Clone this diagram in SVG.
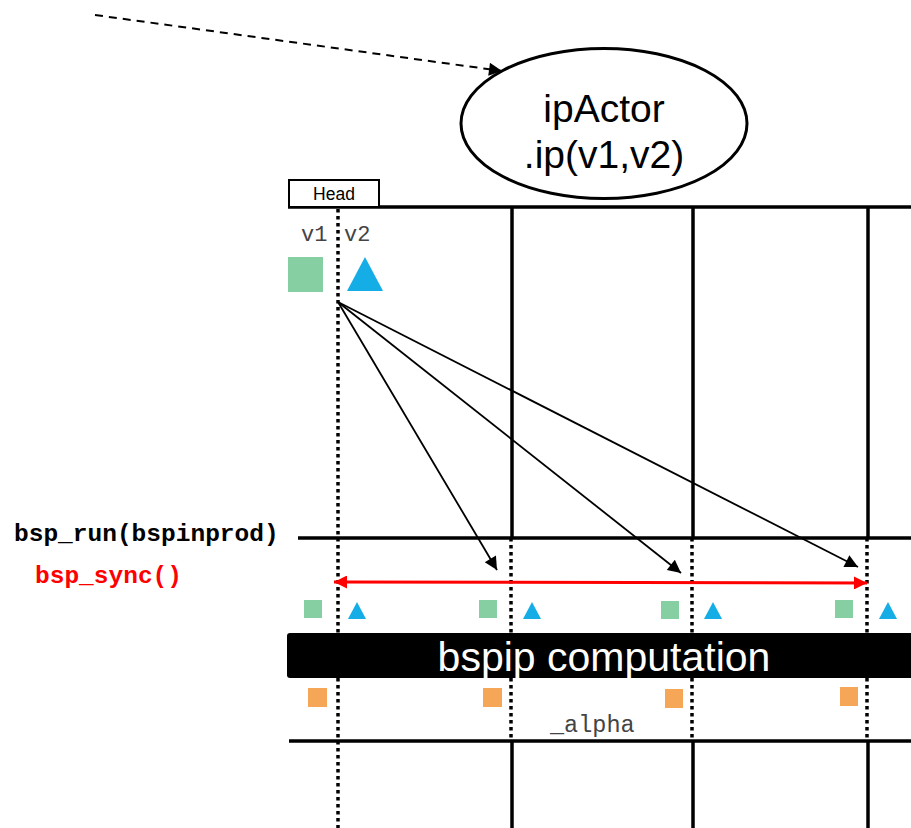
<svg xmlns="http://www.w3.org/2000/svg" width="911" height="828" viewBox="0 0 911 828">
<style>
.thick{stroke:#000;stroke-width:3.5;fill:none}
.dot{stroke:#000;stroke-width:3.5;stroke-dasharray:3.5 3.5;fill:none}
.mono{font-family:"Liberation Mono","Courier New",monospace}
.sans{font-family:"Liberation Sans",Arial,sans-serif}
.green{fill:#86CFA2}
.blue{fill:#14ADE6}
.orange{fill:#F5A657}
</style>
<defs>
<marker id="ahb" viewBox="0 0 10 10" refX="10" refY="5" markerWidth="17" markerHeight="13" markerUnits="userSpaceOnUse" orient="auto"><path d="M0,0 L10,5 L0,10 z" fill="#000"/></marker>
<marker id="ahr" viewBox="0 0 10 10" refX="10" refY="5" markerWidth="17" markerHeight="13" markerUnits="userSpaceOnUse" orient="auto-start-reverse"><path d="M0,0 L10,5 L0,10 z" fill="#FF0000"/></marker>
</defs>
<rect width="911" height="828" fill="#fff"/>

<g id="timeline">
<line class="thick" x1="288" y1="207" x2="911" y2="207"/>
<line class="thick" x1="298" y1="538" x2="911" y2="538"/>
<line class="thick" x1="289" y1="741" x2="911" y2="741"/>
<line class="dot" x1="338" y1="209" x2="338" y2="828"/>
<line class="thick" x1="512" y1="207" x2="512" y2="538"/>
<line class="dot" x1="511" y1="538" x2="511" y2="741"/>
<line class="thick" x1="512" y1="741" x2="512" y2="828"/>
<line class="thick" x1="693" y1="207" x2="693" y2="538"/>
<line class="dot" x1="692" y1="538" x2="692" y2="741"/>
<line class="thick" x1="693" y1="741" x2="693" y2="828"/>
<line class="thick" x1="868" y1="207" x2="868" y2="538"/>
<line class="dot" x1="867" y1="538" x2="867" y2="741"/>
<line class="thick" x1="868" y1="741" x2="868" y2="828"/>
</g>

<g id="ipActor">
<ellipse cx="604" cy="123.5" rx="143" ry="75" fill="#fff" stroke="#000" stroke-width="3"/>
<text class="sans" x="604" y="122" font-size="39" text-anchor="middle">ipActor</text>
<text class="sans" x="604" y="168" font-size="39" text-anchor="middle">.ip(v1,v2)</text>
</g>

<g id="head">
<rect x="289" y="180" width="90" height="27" fill="#fff" stroke="#000" stroke-width="2"/>
<text class="sans" x="334" y="200" font-size="17.5" text-anchor="middle">Head</text>
</g>

<g id="vectors">
<text class="mono" x="301" y="241" font-size="22" fill="#444">v1</text>
<text class="mono" x="344" y="241" font-size="22" fill="#444">v2</text>
<rect class="green" x="288" y="257" width="35" height="35"/>
<polygon class="blue" points="347,291 383,291 365,257"/>
</g>

<g id="labels">
<text class="mono" x="14" y="541" font-size="24.5" font-weight="bold" fill="#000">bsp_run(bspinprod)</text>
<text class="mono" x="35" y="583" font-size="24.5" font-weight="bold" fill="#FF0000">bsp_sync()</text>
</g>

<g id="connectors">
<line x1="95" y1="15" x2="502" y2="71" stroke="#000" stroke-width="2" stroke-dasharray="8 6" marker-end="url(#ahb)"/>
<line x1="338" y1="302" x2="497" y2="570" stroke="#000" stroke-width="1.8" marker-end="url(#ahb)"/>
<line x1="338" y1="302" x2="681" y2="573" stroke="#000" stroke-width="1.8" marker-end="url(#ahb)"/>
<line x1="338" y1="302" x2="858" y2="567" stroke="#000" stroke-width="1.8" marker-end="url(#ahb)"/>
<line x1="334" y1="582" x2="867" y2="583" stroke="#FF0000" stroke-width="3" marker-start="url(#ahr)" marker-end="url(#ahr)"/>
</g>

<g id="inputs">
<rect class="green" x="304" y="600" width="18" height="18"/>
<polygon class="blue" points="348,619 366,619 357,602"/>
<rect class="green" x="479" y="600" width="18" height="18"/>
<polygon class="blue" points="523,619 541,619 532,602"/>
<rect class="green" x="661" y="601" width="18" height="18"/>
<polygon class="blue" points="704,619 722,619 713,602"/>
<rect class="green" x="835" y="600" width="18" height="18"/>
<polygon class="blue" points="879,619 897,619 888,602"/>
</g>

<g id="computation">
<rect x="287" y="633" width="640" height="45" rx="3" fill="#000"/>
<text class="sans" x="604" y="671" font-size="41" fill="#fff" text-anchor="middle">bspip computation</text>
</g>

<g id="outputs">
<rect class="orange" x="308" y="688" width="19" height="19"/>
<rect class="orange" x="483" y="688" width="19" height="19"/>
<rect class="orange" x="665" y="689" width="18" height="19"/>
<rect class="orange" x="840" y="687" width="18" height="19"/>
<text class="mono" x="550" y="732" font-size="23.5" fill="#444">_alpha</text>
</g>
</svg>
